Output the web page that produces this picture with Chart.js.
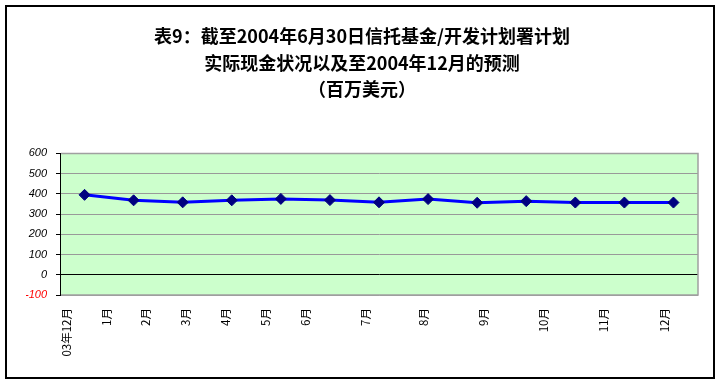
<!DOCTYPE html>
<html>
<head>
<meta charset="utf-8">
<script src="https://cdn.jsdelivr.net/npm/chart.js@4"></script>
<style>
  html, body { margin: 0; padding: 0; background: #fff; }
  canvas { display: block; }
</style>
</head>
<body>
<canvas id="cashChart" width="716" height="390"></canvas>
<script>
// 表9 data (百万美元), one point per month from 03年12月 to 12月
const titleLines = ['表9：截至2004年6月30日信托基金/开发计划署计划', '实际现金状况以及至2004年12月的预测', '（百万美元）'];
const monthLabels = ['03年12月', '1月', '2月', '3月', '4月', '5月', '6月', '7月', '8月', '9月', '10月', '11月', '12月'];
const cashValues = [395, 368, 358, 368, 375, 369, 358, 374, 356, 364, 357, 357, 357];
// where the month labels sit on the point index axis (Excel date-axis offset)
const monthTickPos = [-0.37, 0.46, 1.24, 2.05, 2.87, 3.68, 4.51, 5.73, 6.91, 8.13, 9.35, 10.57, 11.81];
const yMin = -100;
const yMax = 600;
const yStep = 100;

const cjkFont = '"Noto Sans CJK SC", "Noto Sans", sans-serif';

// green plot background, grey frame and the outer black box
const frame = {
    id: 'frame',
    beforeDraw(chart) {
        const { ctx, chartArea: a } = chart;
        ctx.save();
        ctx.fillStyle = '#CCFFCC';
        ctx.fillRect(a.left, a.top, a.right - a.left, a.bottom - a.top);
        ctx.strokeStyle = '#000';
        ctx.lineWidth = 2;
        ctx.strokeRect(6, 6, 708, 372);
        ctx.restore();
    },
    beforeDatasetsDraw(chart) {
        const { ctx, chartArea: a } = chart;
        ctx.save();
        ctx.strokeStyle = '#A0A0A0';
        ctx.lineWidth = 1.5;
        ctx.beginPath();
        ctx.moveTo(a.left + 1, a.top);
        ctx.lineTo(a.right, a.top);
        ctx.lineTo(a.right, a.bottom);
        ctx.lineTo(a.left + 1, a.bottom);
        ctx.stroke();
        ctx.restore();
    }
};

new Chart(document.getElementById('cashChart'), {
    type: 'line',
    data: {
        datasets: [{
            data: cashValues.map((v, i) => ({ x: i, y: v })),
            borderColor: '#0000FF',
            borderWidth: 3,
            pointStyle: 'rectRot',
            pointRadius: 5.5,
            pointBackgroundColor: '#000080',
            pointBorderColor: '#000080',
            pointBorderWidth: 1,
            tension: 0
        }]
    },
    options: {
        responsive: false,
        animation: false,
        layout: { padding: { left: 26, right: 18, top: 0, bottom: 0 } },
        plugins: {
            legend: { display: false },
            tooltip: { enabled: false },
            title: {
                display: true,
                text: titleLines,
                color: '#000',
                font: { family: cjkFont, size: 18, weight: 'bold', lineHeight: 1.47 },
                padding: { top: 23, bottom: 51 }
            }
        },
        scales: {
            x: {
                type: 'linear',
                min: -0.5,
                max: 12.5,
                afterBuildTicks: scale => {
                    scale.ticks = monthTickPos.map(v => ({ value: v }));
                },
                afterFit: scale => { scale.height = 95; },
                grid: { display: false, drawTicks: false },
                border: { display: false },
                ticks: {
                    autoSkip: false,
                    minRotation: 90,
                    maxRotation: 90,
                    padding: 13,
                    color: '#000',
                    font: { family: cjkFont, size: 11.5 },
                    callback: (value, index) => monthLabels[index]
                }
            },
            y: {
                min: yMin,
                max: yMax,
                afterFit: scale => { scale.width = 34; },
                grid: {
                    color: ctx => ctx.tick.value === 0 ? '#000' : '#999999',
                    tickColor: '#000',
                    tickLength: 4,
                    lineWidth: 1
                },
                border: { color: '#000', width: 1 },
                ticks: {
                    stepSize: yStep,
                    padding: 9,
                    color: ctx => ctx.tick.value < 0 ? '#FF0000' : '#000',
                    font: { family: '"Liberation Sans", Arial, sans-serif', size: 11, style: 'italic' }
                }
            }
        }
    },
    plugins: [frame]
});
</script>
</body>
</html>
